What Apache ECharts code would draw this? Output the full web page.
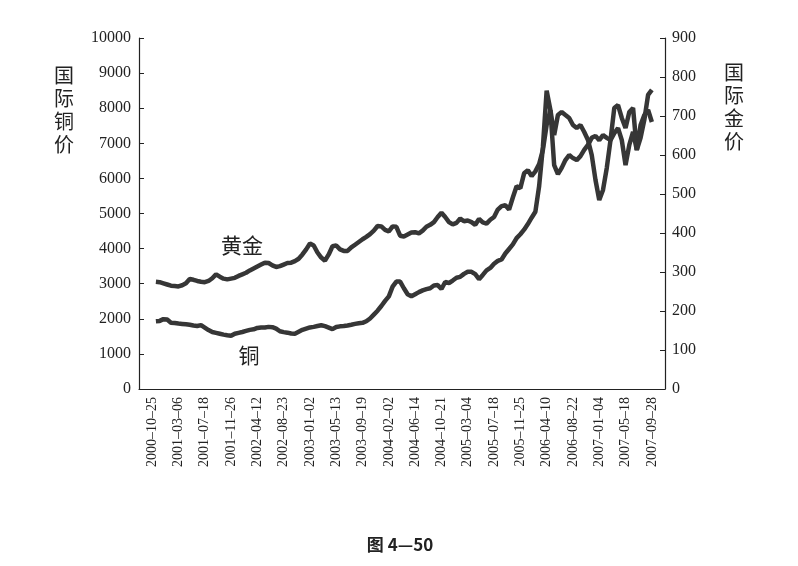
<!DOCTYPE html>
<html>
<head>
<meta charset="utf-8">
<script src="https://cdn.jsdelivr.net/npm/echarts@6/dist/echarts.min.js"></script>
<style>
html,body{margin:0;padding:0;background:#fff;}
#chart{width:798px;height:566px;}
</style>
</head>
<body>
<div id="chart"></div>
<script>
// Tick labels on the date axis (one per slot)
const tickLabels = ['2000–10–25','2001–03–06','2001–07–18','2001–11–26','2002–04–12','2002–08–23',
  '2003–01–02','2003–05–13','2003–09–19','2004–02–02','2004–06–14','2004–10–21','2005–03–04',
  '2005–07–18','2005–11–25','2006–04–10','2006–08–22','2007–01–04','2007–05–18','2007–09–28'];
const pointsPerSlot = 7;
const firstPoint = 4;

// 国际铜价 (left axis)
const copper = [
  1930,1940,1990,1980,1890,1880,1865,1855,1845,1830,
  1810,1795,1820,1750,1680,1625,1600,1575,1550,1530,
  1515,1575,1600,1625,1655,1685,1700,1740,1755,1750,
  1770,1760,1720,1645,1620,1605,1580,1575,1630,1685,
  1720,1755,1770,1795,1815,1790,1750,1705,1765,1785,
  1795,1810,1830,1855,1875,1885,1930,2010,2120,2230,
  2365,2510,2640,2915,3060,3060,2870,2700,2640,2700,
  2760,2810,2845,2870,2950,2960,2850,3050,3020,3090,
  3170,3195,3280,3342,3340,3270,3130,3250,3380,3450,
  3570,3650,3690,3860,3990,4120,4300,4410,4540,4700,
  4880,5050,5780,6895,8500,7950,7236,7806,7892,7806,
  7721,7521,7436,7521,7322,7094,6667,5954,5385,5670,
  6296,7094,8006,8091,7721,7436,7892,8006,6809,7521,
  7806,7949,7607
];

// 国际金价 (right axis)
const gold = [
  275,274,271,268,265,264,263,266,271,282,
  280,277,275,274,277,284,294,288,283,281,
  283,285,290,294,298,304,309,314,319,324,
  323,317,313,315,319,323,324,328,334,345,
  358,373,368,350,337,329,345,366,368,358,
  354,354,363,370,377,384,390,397,406,418,
  417,408,404,417,416,393,391,396,401,402,
  399,406,416,421,428,441,452,441,428,422,
  426,437,430,432,428,421,436,427,424,434,
  441,460,469,471,460,491,520,515,553,561,
  546,558,577,613,677,715,574,551,567,587,
  600,592,587,597,613,626,644,649,638,651,
  644,638,656,669,638,574,626,659,613,644,
  690,754,767
];

const categories = [];
tickLabels.forEach(function (lab) {
  for (let j = 0; j < pointsPerSlot; j++) {
    categories.push(j === 3 ? lab : lab + '#' + j);
  }
});
function pad(arr) {
  const out = new Array(categories.length).fill(null);
  arr.forEach(function (v, i) { out[firstPoint + i] = v; });
  return out;
}

const numFont = 'Liberation Serif';
const cjkFont = 'Noto Sans CJK SC';
const lineColor = '#363636';
const axisColor = '#222';

const chart = echarts.init(document.getElementById('chart'));
chart.setOption({
  animation: false,
  backgroundColor: '#fff',
  grid: { left: 139, right: 133, top: 38, bottom: 177 },
  xAxis: {
    type: 'category',
    data: categories,
    boundaryGap: true,
    axisLine: { lineStyle: { color: axisColor, width: 1.2 } },
    axisTick: {
      inside: true, length: 5,
      interval: function (i) { return i % pointsPerSlot === 0; },
      lineStyle: { color: axisColor }
    },
    axisLabel: {
      interval: function (i) { return i % pointsPerSlot === 3; },
      rotate: 90, margin: 8,
      fontFamily: numFont, fontSize: 14, color: '#222'
    },
    splitLine: { show: false }
  },
  yAxis: [
    {
      type: 'value', min: 0, max: 10000, interval: 1000,
      axisLine: { show: true, lineStyle: { color: axisColor, width: 1.2 } },
      axisTick: { show: true, inside: true, length: 5, lineStyle: { color: axisColor } },
      axisLabel: { margin: 8, fontFamily: numFont, fontSize: 16, color: '#222',
        formatter: function (v) { return String(v); } },
      splitLine: { show: false }
    },
    {
      type: 'value', min: 0, max: 900, interval: 100,
      position: 'right',
      axisLine: { show: true, lineStyle: { color: axisColor, width: 1.2 } },
      axisTick: { show: true, inside: true, length: 5, lineStyle: { color: axisColor } },
      axisLabel: { margin: 7, fontFamily: numFont, fontSize: 16, color: '#222',
        formatter: function (v) { return String(v); } },
      splitLine: { show: false }
    }
  ],
  series: [
    {
      name: '铜', type: 'line', yAxisIndex: 0, data: pad(copper),
      showSymbol: false, symbol: 'none',
      lineStyle: { color: lineColor, width: 4.5 }, itemStyle: { color: lineColor }
    },
    {
      name: '黄金', type: 'line', yAxisIndex: 1, data: pad(gold),
      showSymbol: false, symbol: 'none',
      lineStyle: { color: lineColor, width: 4.5 }, itemStyle: { color: lineColor }
    }
  ],
  graphic: [
    { type: 'text', x: 242, y: 245, style: { text: '黄金', font: '21px "' + cjkFont + '"', fill: '#222', align: 'center', verticalAlign: 'middle' } },
    { type: 'text', x: 249, y: 355, style: { text: '铜', font: '21px "' + cjkFont + '"', fill: '#222', align: 'center', verticalAlign: 'middle' } },
    { type: 'text', x: 64, y: 110, style: { text: '国\n际\n铜\n价', font: '20px "' + cjkFont + '"', lineHeight: 23, fill: '#222', align: 'center', verticalAlign: 'middle' } },
    { type: 'text', x: 734, y: 107, style: { text: '国\n际\n金\n价', font: '20px "' + cjkFont + '"', lineHeight: 23, fill: '#222', align: 'center', verticalAlign: 'middle' } },
    { type: 'text', x: 400, y: 545, style: { text: '图 4—50', font: 'bold 17px "' + cjkFont + '"', fill: '#222', align: 'center', verticalAlign: 'middle' } }
  ]
});
</script>
</body>
</html>
